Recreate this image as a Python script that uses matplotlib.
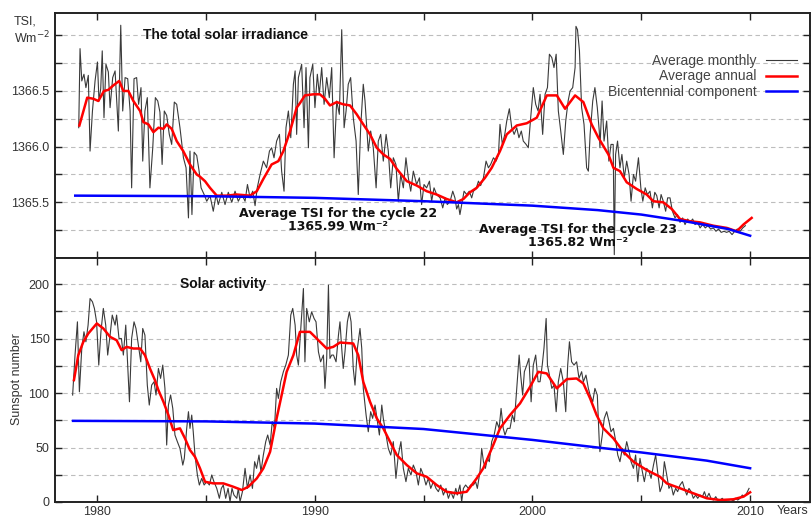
import matplotlib
matplotlib.use("Agg")
import matplotlib.pyplot as plt
from matplotlib.ticker import MultipleLocator, FixedLocator, FuncFormatter

plt.rcParams['font.family'] = ['Liberation Sans', 'DejaVu Sans']

# ---------------- TSI (W m^-2) ----------------
tsi_monthly = [
    (1979.16, 1366.17), (1979.22, 1366.88), (1979.30, 1366.59), (1979.40, 1366.65), (1979.49, 1366.53),
    (1979.60, 1366.64), (1979.68, 1365.96), (1979.79, 1366.32), (1979.91, 1366.59), (1980.02, 1366.76),
    (1980.09, 1366.41), (1980.17, 1366.52), (1980.24, 1366.86), (1980.32, 1366.26), (1980.41, 1366.74),
    (1980.52, 1366.67), (1980.60, 1366.35), (1980.72, 1366.62), (1980.83, 1366.68), (1980.98, 1366.14),
    (1981.09, 1367.09), (1981.18, 1366.32), (1981.29, 1366.62), (1981.41, 1366.61), (1981.52, 1366.32),
    (1981.59, 1365.63), (1981.70, 1366.61), (1981.82, 1366.62), (1981.91, 1366.38), (1982.02, 1366.53),
    (1982.10, 1365.87), (1982.20, 1366.32), (1982.31, 1366.44), (1982.43, 1365.63), (1982.56, 1365.99),
    (1982.68, 1366.44), (1982.79, 1366.41), (1982.89, 1366.31), (1982.99, 1365.84), (1983.09, 1366.32),
    (1983.20, 1366.28), (1983.32, 1366.11), (1983.43, 1366.02), (1983.55, 1366.40), (1983.66, 1366.38),
    (1983.81, 1366.17), (1983.97, 1365.90), (1984.09, 1365.81), (1984.20, 1365.36), (1984.27, 1365.96),
    (1984.36, 1365.39), (1984.46, 1365.95), (1984.58, 1365.92), (1984.69, 1365.78), (1984.78, 1365.63),
    (1984.92, 1365.57), (1985.04, 1365.51), (1985.19, 1365.56), (1985.34, 1365.42), (1985.47, 1365.57),
    (1985.57, 1365.48), (1985.73, 1365.59), (1985.88, 1365.48), (1986.03, 1365.59), (1986.19, 1365.50),
    (1986.34, 1365.60), (1986.49, 1365.51), (1986.65, 1365.57), (1986.80, 1365.51), (1986.91, 1365.66),
    (1987.03, 1365.54), (1987.15, 1365.60), (1987.26, 1365.47), (1987.36, 1365.63), (1987.49, 1365.75),
    (1987.64, 1365.87), (1987.79, 1365.81), (1987.92, 1365.96), (1988.02, 1365.99), (1988.13, 1365.90),
    (1988.25, 1366.05), (1988.38, 1366.11), (1988.48, 1365.78), (1988.59, 1365.60), (1988.68, 1366.17),
    (1988.79, 1366.32), (1988.90, 1366.08), (1989.02, 1366.56), (1989.10, 1366.68), (1989.17, 1366.11),
    (1989.25, 1366.62), (1989.40, 1366.74), (1989.51, 1366.17), (1989.60, 1366.71), (1989.71, 1365.99),
    (1989.78, 1366.62), (1989.91, 1366.74), (1990.01, 1366.35), (1990.12, 1366.65), (1990.21, 1366.47),
    (1990.32, 1366.71), (1990.43, 1366.38), (1990.55, 1366.62), (1990.67, 1366.44), (1990.78, 1366.71),
    (1990.89, 1365.90), (1991.01, 1366.41), (1991.13, 1366.29), (1991.24, 1367.05), (1991.35, 1366.17),
    (1991.44, 1366.32), (1991.54, 1366.56), (1991.65, 1366.62), (1991.77, 1366.26), (1991.90, 1366.05),
    (1992.00, 1365.57), (1992.11, 1366.17), (1992.23, 1366.56), (1992.31, 1366.41), (1992.46, 1365.96),
    (1992.57, 1366.14), (1992.69, 1365.99), (1992.82, 1365.63), (1992.92, 1366.05), (1993.03, 1366.11),
    (1993.15, 1365.87), (1993.28, 1366.11), (1993.38, 1365.96), (1993.49, 1365.63), (1993.61, 1365.90),
    (1993.73, 1365.84), (1993.84, 1365.51), (1993.95, 1365.75), (1994.07, 1365.63), (1994.19, 1365.90),
    (1994.30, 1365.72), (1994.41, 1365.60), (1994.53, 1365.78), (1994.68, 1365.66), (1994.81, 1365.72),
    (1994.91, 1365.48), (1995.02, 1365.66), (1995.14, 1365.63), (1995.27, 1365.69), (1995.37, 1365.51),
    (1995.48, 1365.63), (1995.60, 1365.57), (1995.76, 1365.54), (1995.88, 1365.45), (1995.99, 1365.54),
    (1996.09, 1365.48), (1996.22, 1365.51), (1996.34, 1365.60), (1996.44, 1365.54), (1996.52, 1365.44),
    (1996.60, 1365.48), (1996.67, 1365.39), (1996.75, 1365.48), (1996.86, 1365.60), (1996.98, 1365.57),
    (1997.10, 1365.60), (1997.21, 1365.54), (1997.29, 1365.60), (1997.41, 1365.62), (1997.52, 1365.69),
    (1997.62, 1365.65), (1997.75, 1365.72), (1997.87, 1365.87), (1997.98, 1365.81), (1998.08, 1365.84),
    (1998.21, 1365.90), (1998.33, 1365.87), (1998.44, 1365.93), (1998.51, 1366.20), (1998.62, 1366.02),
    (1998.73, 1366.11), (1998.82, 1366.23), (1998.94, 1366.34), (1999.05, 1366.17), (1999.16, 1366.11),
    (1999.28, 1366.17), (1999.38, 1366.08), (1999.49, 1366.14), (1999.58, 1366.05), (1999.71, 1366.02),
    (1999.81, 1365.99), (1999.92, 1366.26), (2000.04, 1366.53), (2000.15, 1366.38), (2000.26, 1366.32),
    (2000.35, 1366.47), (2000.47, 1366.11), (2000.58, 1366.47), (2000.69, 1366.53), (2000.78, 1366.83),
    (2000.89, 1366.80), (2000.99, 1366.71), (2001.09, 1366.83), (2001.19, 1366.32), (2001.30, 1366.14),
    (2001.42, 1365.93), (2001.53, 1366.23), (2001.64, 1366.41), (2001.73, 1366.50), (2001.85, 1366.53),
    (2001.96, 1366.71), (2002.00, 1367.08), (2002.07, 1367.05), (2002.16, 1366.86), (2002.26, 1366.35),
    (2002.37, 1366.20), (2002.49, 1365.81), (2002.57, 1365.78), (2002.65, 1366.11), (2002.77, 1366.41),
    (2002.87, 1366.53), (2002.98, 1366.35), (2003.07, 1366.14), (2003.10, 1365.99), (2003.20, 1366.41),
    (2003.29, 1366.05), (2003.41, 1366.23), (2003.51, 1365.87), (2003.61, 1366.02), (2003.71, 1366.02),
    (2003.76, 1365.03), (2003.82, 1365.93), (2003.91, 1366.05), (2004.02, 1365.81), (2004.11, 1365.93),
    (2004.22, 1365.72), (2004.33, 1365.87), (2004.44, 1365.75), (2004.53, 1365.51), (2004.64, 1365.75),
    (2004.74, 1365.69), (2004.87, 1365.90), (2004.98, 1365.63), (2005.07, 1365.51), (2005.18, 1365.63),
    (2005.28, 1365.57), (2005.40, 1365.60), (2005.51, 1365.45), (2005.62, 1365.59), (2005.71, 1365.56),
    (2005.82, 1365.45), (2005.91, 1365.57), (2006.01, 1365.51), (2006.12, 1365.42), (2006.21, 1365.54),
    (2006.32, 1365.54), (2006.43, 1365.42), (2006.55, 1365.36), (2006.66, 1365.39), (2006.78, 1365.32),
    (2006.90, 1365.36), (2007.01, 1365.30), (2007.13, 1365.35), (2007.24, 1365.32), (2007.36, 1365.35),
    (2007.47, 1365.30), (2007.59, 1365.32), (2007.70, 1365.27), (2007.82, 1365.30), (2007.94, 1365.27),
    (2008.06, 1365.29), (2008.19, 1365.26), (2008.31, 1365.27), (2008.43, 1365.24), (2008.55, 1365.26),
    (2008.67, 1365.23), (2008.80, 1365.24), (2008.92, 1365.23), (2009.04, 1365.24), (2009.17, 1365.21),
    (2009.29, 1365.24), (2009.41, 1365.26), (2009.54, 1365.24), (2009.66, 1365.27), (2009.78, 1365.29),
]

tsi_annual = [
    (1979.19, 1366.19), (1979.55, 1366.44), (1979.83, 1366.43), (1980.06, 1366.41), (1980.32, 1366.50),
    (1980.52, 1366.51), (1980.75, 1366.55), (1981.02, 1366.59), (1981.21, 1366.50), (1981.44, 1366.50),
    (1981.67, 1366.41), (1981.98, 1366.32), (1982.13, 1366.22), (1982.36, 1366.20), (1982.59, 1366.13),
    (1982.82, 1366.17), (1983.05, 1366.16), (1983.20, 1366.20), (1983.43, 1366.16), (1983.66, 1366.05),
    (1983.96, 1365.96), (1984.27, 1365.84), (1984.58, 1365.75), (1984.73, 1365.73), (1984.96, 1365.69),
    (1985.19, 1365.63), (1985.50, 1365.56), (1985.96, 1365.56), (1986.42, 1365.57), (1987.03, 1365.56),
    (1987.34, 1365.60), (1987.64, 1365.71), (1988.02, 1365.84), (1988.33, 1365.87), (1988.56, 1365.96),
    (1988.87, 1366.14), (1989.17, 1366.35), (1989.32, 1366.39), (1989.55, 1366.46), (1989.94, 1366.47),
    (1990.24, 1366.47), (1990.47, 1366.43), (1990.70, 1366.37), (1991.01, 1366.40), (1991.31, 1366.38),
    (1991.62, 1366.37), (1991.93, 1366.29), (1992.23, 1366.20), (1992.54, 1366.11), (1992.85, 1365.99),
    (1993.15, 1365.93), (1993.46, 1365.89), (1993.77, 1365.80), (1994.23, 1365.69), (1994.69, 1365.65),
    (1995.14, 1365.60), (1995.60, 1365.57), (1996.06, 1365.53), (1996.52, 1365.50), (1996.83, 1365.53),
    (1997.13, 1365.59), (1997.44, 1365.63), (1997.82, 1365.72), (1998.13, 1365.81), (1998.51, 1365.96),
    (1998.82, 1366.11), (1999.28, 1366.19), (1999.74, 1366.21), (2000.20, 1366.26), (2000.66, 1366.46),
    (2001.12, 1366.46), (2001.50, 1366.34), (2001.96, 1366.46), (2002.34, 1366.40), (2002.72, 1366.20),
    (2003.03, 1366.08), (2003.49, 1365.93), (2003.72, 1365.81), (2004.02, 1365.78), (2004.33, 1365.68),
    (2004.79, 1365.62), (2005.25, 1365.57), (2005.55, 1365.51), (2006.01, 1365.50), (2006.40, 1365.44),
    (2006.78, 1365.35), (2007.24, 1365.33), (2007.70, 1365.32), (2008.31, 1365.29), (2008.93, 1365.27),
    (2009.38, 1365.24), (2009.69, 1365.30), (2010.07, 1365.36),
]

tsi_bicentennial = [
    (1979.0, 1365.56), (1985.0, 1365.555), (1990.0, 1365.54), (1995.0, 1365.51), (2000.0, 1365.47),
    (2003.0, 1365.43), (2005.0, 1365.39), (2007.0, 1365.33), (2009.0, 1365.26), (2010.0, 1365.20),
]

# ---------------- Sunspot number ----------------
ssn_monthly = [
    (1978.88, 98.2), (1978.99, 134.9), (1979.10, 165.4), (1979.19, 101.2), (1979.30, 141.0),
    (1979.40, 156.3), (1979.49, 147.1), (1979.59, 162.4), (1979.68, 186.8), (1979.79, 183.8),
    (1979.88, 177.7), (1979.98, 165.4), (1980.08, 125.7), (1980.18, 156.3), (1980.29, 177.7),
    (1980.40, 162.4), (1980.49, 134.9), (1980.60, 153.2), (1980.70, 171.6), (1980.83, 162.4),
    (1980.90, 171.6), (1981.01, 150.1), (1981.12, 150.1), (1981.21, 134.9), (1981.32, 162.4),
    (1981.41, 125.7), (1981.49, 92.0), (1981.59, 150.1), (1981.70, 165.4), (1981.79, 159.3),
    (1981.90, 144.0), (1982.01, 128.7), (1982.10, 159.3), (1982.20, 153.2), (1982.31, 107.3),
    (1982.40, 89.0), (1982.51, 107.3), (1982.62, 110.4), (1982.71, 98.2), (1982.82, 122.6),
    (1982.92, 113.5), (1983.02, 125.7), (1983.12, 104.3), (1983.20, 52.3), (1983.28, 89.0),
    (1983.38, 98.2), (1983.48, 85.9), (1983.58, 61.5), (1983.69, 55.4), (1983.81, 49.2),
    (1983.94, 33.9), (1984.01, 40.1), (1984.12, 67.6), (1984.20, 82.9), (1984.27, 67.6),
    (1984.35, 79.8), (1984.42, 64.5), (1984.50, 43.1), (1984.61, 24.8), (1984.70, 15.6),
    (1984.81, 21.7), (1984.92, 15.6), (1985.04, 18.7), (1985.16, 15.6), (1985.27, 24.8),
    (1985.37, 18.7), (1985.50, 12.5), (1985.62, 3.4), (1985.71, 12.5), (1985.80, 15.6),
    (1985.91, 3.4), (1986.02, 12.5), (1986.11, 0.3), (1986.20, 12.5), (1986.29, 6.4),
    (1986.42, 3.4), (1986.49, 12.5), (1986.57, 0.3), (1986.68, 9.5), (1986.80, 30.9),
    (1986.91, 12.5), (1987.03, 24.8), (1987.14, 12.5), (1987.24, 37.0), (1987.33, 30.9),
    (1987.44, 43.1), (1987.53, 27.8), (1987.64, 43.1), (1987.75, 55.4), (1987.84, 61.5),
    (1987.95, 52.3), (1988.05, 73.7), (1988.15, 67.6), (1988.25, 104.3), (1988.33, 95.1),
    (1988.44, 110.4), (1988.56, 119.6), (1988.67, 125.7), (1988.79, 134.9), (1988.90, 171.6),
    (1988.99, 177.7), (1989.10, 162.4), (1989.17, 134.9), (1989.25, 125.7), (1989.40, 171.6),
    (1989.48, 196.0), (1989.55, 128.7), (1989.63, 177.7), (1989.75, 165.4), (1989.86, 174.6),
    (1989.97, 168.5), (1990.06, 165.4), (1990.17, 137.9), (1990.27, 128.7), (1990.40, 134.9),
    (1990.47, 104.3), (1990.55, 131.8), (1990.63, 199.1), (1990.70, 131.8), (1990.78, 134.9),
    (1990.86, 134.9), (1990.98, 128.7), (1991.09, 153.2), (1991.16, 165.4), (1991.24, 141.0),
    (1991.31, 122.6), (1991.39, 137.9), (1991.50, 165.4), (1991.59, 174.6), (1991.67, 165.4),
    (1991.77, 122.6), (1991.85, 107.3), (1991.96, 141.0), (1992.08, 159.3), (1992.16, 141.0),
    (1992.23, 104.3), (1992.36, 79.8), (1992.46, 64.5), (1992.57, 82.9), (1992.66, 76.8),
    (1992.77, 89.0), (1992.88, 73.7), (1992.97, 61.5), (1993.08, 89.0), (1993.15, 76.8),
    (1993.28, 61.5), (1993.38, 49.2), (1993.49, 43.1), (1993.61, 55.4), (1993.73, 21.7),
    (1993.84, 43.1), (1993.96, 55.4), (1994.07, 30.9), (1994.19, 18.7), (1994.30, 30.9),
    (1994.42, 24.8), (1994.53, 33.9), (1994.65, 27.8), (1994.76, 15.6), (1994.87, 30.9),
    (1994.99, 24.8), (1995.11, 15.6), (1995.22, 21.7), (1995.33, 12.5), (1995.45, 18.7),
    (1995.57, 12.5), (1995.68, 9.5), (1995.79, 15.6), (1995.91, 6.4), (1996.03, 12.5),
    (1996.14, 3.4), (1996.25, 9.5), (1996.37, 3.4), (1996.48, 12.5), (1996.55, 6.4),
    (1996.67, 15.6), (1996.75, 0.3), (1996.83, 12.5), (1996.93, 15.6), (1997.06, 12.5),
    (1997.16, 15.6), (1997.29, 15.6), (1997.39, 18.7), (1997.47, 12.5), (1997.59, 27.8),
    (1997.67, 49.2), (1997.75, 37.0), (1997.84, 30.9), (1997.93, 40.1), (1998.02, 37.0),
    (1998.13, 55.4), (1998.24, 61.5), (1998.36, 73.7), (1998.47, 67.6), (1998.56, 85.9),
    (1998.66, 67.6), (1998.74, 61.5), (1998.85, 67.6), (1998.97, 67.6), (1999.08, 79.8),
    (1999.17, 73.7), (1999.28, 104.3), (1999.39, 134.9), (1999.46, 116.5), (1999.55, 98.2),
    (1999.63, 119.6), (1999.74, 125.7), (1999.84, 131.8), (1999.94, 92.0), (2000.04, 125.7),
    (2000.15, 134.9), (2000.26, 110.4), (2000.35, 110.4), (2000.45, 125.7), (2000.53, 141.0),
    (2000.63, 168.5), (2000.69, 125.7), (2000.78, 116.5), (2000.89, 104.3), (2000.99, 107.3),
    (2001.09, 82.9), (2001.19, 110.4), (2001.30, 122.6), (2001.42, 110.4), (2001.53, 82.9),
    (2001.62, 125.7), (2001.70, 147.1), (2001.80, 128.7), (2001.91, 125.7), (2002.03, 128.7),
    (2002.14, 113.5), (2002.26, 119.6), (2002.34, 110.4), (2002.46, 116.5), (2002.57, 104.3),
    (2002.65, 98.2), (2002.77, 92.0), (2002.87, 104.3), (2002.98, 98.2), (2003.07, 55.4),
    (2003.10, 46.2), (2003.21, 61.5), (2003.30, 76.8), (2003.41, 82.9), (2003.52, 73.7),
    (2003.61, 64.5), (2003.72, 67.6), (2003.83, 55.4), (2003.92, 43.1), (2004.02, 37.0),
    (2004.13, 49.2), (2004.22, 43.1), (2004.33, 55.4), (2004.44, 46.2), (2004.53, 37.0),
    (2004.64, 30.9), (2004.74, 43.1), (2004.84, 18.7), (2004.94, 40.1), (2005.05, 27.8),
    (2005.14, 18.7), (2005.25, 30.9), (2005.36, 27.8), (2005.45, 21.7), (2005.56, 33.9),
    (2005.66, 43.1), (2005.75, 27.8), (2005.86, 9.5), (2005.97, 15.6), (2006.06, 37.0),
    (2006.17, 24.8), (2006.27, 12.5), (2006.37, 15.6), (2006.47, 6.4), (2006.58, 12.5),
    (2006.67, 9.5), (2006.78, 15.6), (2006.89, 18.7), (2006.98, 12.5), (2007.09, 6.4),
    (2007.19, 12.5), (2007.29, 9.5), (2007.39, 3.4), (2007.50, 6.4), (2007.59, 3.4),
    (2007.70, 6.4), (2007.81, 4.9), (2007.90, 9.5), (2008.00, 3.4), (2008.11, 8.0),
    (2008.20, 3.4), (2008.31, 1.8), (2008.42, 4.9), (2008.51, 1.8), (2008.61, 1.8),
    (2008.72, 3.4), (2008.82, 0.9), (2008.92, 1.8), (2009.03, 1.8), (2009.12, 2.4),
    (2009.23, 0.9), (2009.33, 3.4), (2009.43, 1.8), (2009.54, 3.4), (2009.64, 6.4),
    (2009.73, 4.9), (2009.84, 8.0), (2009.95, 12.5),
]

ssn_annual = [
    (1978.94, 111.9), (1979.14, 134.8), (1979.37, 147.0), (1979.60, 154.7), (1979.99, 163.9),
    (1980.29, 159.3), (1980.60, 151.6), (1980.90, 148.5), (1981.13, 139.4), (1981.36, 142.4),
    (1981.67, 140.9), (1981.98, 140.9), (1982.20, 134.8), (1982.43, 122.6), (1982.66, 111.9),
    (1982.82, 102.7), (1983.05, 92.0), (1983.28, 79.8), (1983.50, 66.0), (1983.81, 67.6),
    (1984.04, 58.4), (1984.27, 47.7), (1984.50, 41.5), (1984.73, 30.9), (1984.96, 18.6),
    (1985.34, 17.1), (1985.80, 17.1), (1986.26, 14.0), (1986.65, 11.0), (1986.95, 14.0),
    (1987.34, 21.7), (1987.64, 30.9), (1987.95, 46.1), (1988.25, 76.8), (1988.48, 98.1),
    (1988.71, 119.5), (1989.02, 134.8), (1989.32, 156.2), (1989.78, 156.2), (1990.09, 150.1),
    (1990.55, 140.9), (1990.85, 142.4), (1991.16, 146.4), (1991.77, 145.5), (1992.00, 134.8),
    (1992.23, 110.3), (1992.54, 92.0), (1992.85, 76.8), (1993.15, 67.6), (1993.46, 55.3),
    (1993.77, 43.1), (1994.23, 33.9), (1994.69, 26.3), (1995.14, 23.2), (1995.60, 15.6),
    (1996.06, 9.4), (1996.52, 8.0), (1996.98, 9.4), (1997.44, 21.7), (1997.74, 30.9),
    (1998.20, 52.3), (1998.51, 67.6), (1998.97, 79.8), (1999.43, 90.5), (1999.89, 105.7),
    (2000.27, 119.5), (2000.66, 118.0), (2001.12, 104.3), (2001.58, 112.8), (2002.03, 113.4),
    (2002.34, 108.8), (2002.65, 95.1), (2002.95, 79.8), (2003.26, 67.6), (2003.72, 58.4),
    (2004.18, 46.1), (2004.64, 37.0), (2005.25, 29.3), (2005.86, 23.2), (2006.17, 17.1),
    (2006.78, 12.6), (2007.39, 8.0), (2008.01, 3.4), (2008.62, 1.8), (2009.23, 2.5),
    (2009.69, 4.9), (2010.00, 8.9),
]

ssn_bicentennial = [
    (1978.9, 74.5), (1985.0, 74.0), (1990.0, 72.0), (1995.0, 67.0), (2000.0, 57.0),
    (2003.0, 50.0), (2005.0, 45.5), (2008.0, 38.0), (2010.0, 31.0),
]

legend_labels = ["Average monthly", "Average annual", "Bicentennial component"]
x_ticks = [1980, 1990, 2000, 2010]


def unzip(pairs):
    return [p[0] for p in pairs], [p[1] for p in pairs]


W, H = 811, 519
fig = plt.figure(figsize=(W / 100, H / 100), dpi=100)
ax1 = fig.add_axes([55 / W, 1 - 258 / H, 755 / W, 245 / H])
ax2 = fig.add_axes([55 / W, 1 - 502 / H, 755 / W, 244 / H])

TEXT = '#333333'
for ax in (ax1, ax2):
    ax.set_xlim(1978.07, 2012.75)
    ax.xaxis.set_major_locator(FixedLocator(x_ticks))
    ax.xaxis.set_minor_locator(MultipleLocator(5))
    ax.yaxis.grid(True, which='both', linestyle=(0, (4, 3)), color='#bdbdbd', linewidth=0.8)
    ax.set_axisbelow(True)
    ax.tick_params(which='both', direction='in', top=True, right=True, length=5,
                   width=1.0, color='#222222', labelcolor=TEXT, labelsize=9)
    ax.tick_params(axis='x', pad=3)
    ax.tick_params(axis='y', pad=4)
    for sp in ax.spines.values():
        sp.set_linewidth(1.4)
        sp.set_color('#222222')

# ---- upper panel: TSI ----
x, y = unzip(tsi_monthly)
l1, = ax1.plot(x, y, color='#3a3a3a', lw=0.8)
x, y = unzip(tsi_annual)
l2, = ax1.plot(x, y, color='#ff0000', lw=1.8)
x, y = unzip(tsi_bicentennial)
l3, = ax1.plot(x, y, color='#0000ff', lw=1.8)
ax1.set_ylim(1365.0, 1367.2)
ax1.yaxis.set_major_locator(FixedLocator([1365.5, 1366.0, 1366.5, 1367.0]))
ax1.yaxis.set_minor_locator(MultipleLocator(0.25))
ax1.yaxis.set_major_formatter(FuncFormatter(lambda v, p: '' if v > 1366.9 else f'{v:.1f}'))
ax1.tick_params(axis='x', labelbottom=False)

leg = ax1.legend([l1, l2, l3], legend_labels, loc='upper right',
                 bbox_to_anchor=(797 / W, 1 - 54 / H), bbox_transform=fig.transFigure,
                 frameon=False, markerfirst=False, fontsize=10, handlelength=2.2,
                 handletextpad=0.7, labelspacing=0.1, borderpad=0, borderaxespad=0)
for t in leg.get_texts():
    t.set_color('#444444')

fig.text(143 / W, 1 - 35 / H, 'The total solar irradiance', fontsize=10,
         fontweight='bold', color='#111111', va='center', ha='left')
fig.text(14 / W, 1 - 22 / H, 'TSI,', fontsize=9, color=TEXT, va='center', ha='left')
fig.text(14 / W, 1 - 38 / H, 'Wm$^{-2}$', fontsize=9, color=TEXT, va='center', ha='left')

fig.text(338 / W, 1 - 220.5 / H, 'Average TSI for the cycle 22\n1365.99 Wm⁻²',
         family='DejaVu Sans', fontweight='bold', fontsize=9, color='#111111',
         ha='center', va='center', linespacing=1.0)
fig.text(578 / W, 1 - 235.5 / H, 'Average TSI for the cycle 23\n1365.82 Wm⁻²',
         family='DejaVu Sans', fontweight='bold', fontsize=9, color='#111111',
         ha='center', va='center', linespacing=1.0)

# ---- lower panel: sunspots ----
x, y = unzip(ssn_monthly)
ax2.plot(x, y, color='#3a3a3a', lw=0.8)
x, y = unzip(ssn_annual)
ax2.plot(x, y, color='#ff0000', lw=1.8)
x, y = unzip(ssn_bicentennial)
ax2.plot(x, y, color='#0000ff', lw=1.8)
ax2.set_ylim(0, 224)
ax2.yaxis.set_major_locator(MultipleLocator(50))
ax2.yaxis.set_minor_locator(MultipleLocator(25))
ax2.set_xticklabels([str(v) for v in x_ticks])

fig.text(180 / W, 1 - 284 / H, 'Solar activity', fontsize=10,
         fontweight='bold', color='#111111', va='center', ha='left')
fig.text(17 / W, 1 - 379 / H, 'Sunspot number', fontsize=9, color=TEXT,
         rotation=90, va='center', ha='center')
fig.text(808 / W, 1 - 511 / H, 'Years', fontsize=9, color=TEXT, va='center', ha='right')

fig.savefig('out.png', dpi=100)
